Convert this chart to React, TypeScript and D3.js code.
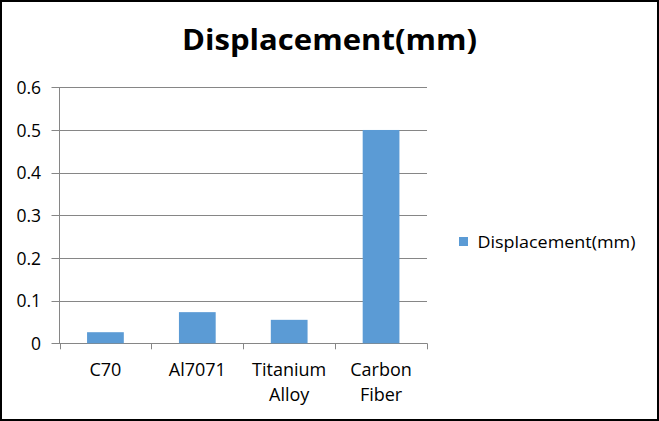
import React from "react";
import * as d3 from "d3";

const categories: string[][] = [["C70"], ["Al7071"], ["Titanium", "Alloy"], ["Carbon", "Fiber"]];
const values: number[] = [0.026, 0.073, 0.055, 0.5];
const yTicks: number[] = [0, 0.1, 0.2, 0.3, 0.4, 0.5, 0.6];
const seriesName = "Displacement(mm)";
const title = "Displacement(mm)";

const W = 659;
const H = 421;
const FONT = "'Open Sans', 'Noto Sans', sans-serif";

export default function App() {
  const left = 59.5;
  const right = 427;
  const top = 87.3;
  const bottom = 343.3;
  const y = d3.scaleLinear().domain([0, 0.6]).range([bottom, top]);
  const x = d3
    .scaleBand<number>()
    .domain(d3.range(categories.length))
    .range([left, right])
    .paddingInner(0.6)
    .paddingOuter(0.3);
  const step = (right - left) / categories.length;
  const grid = "#868686";
  const barColor = "#5B9BD5";

  return (
    <svg
      width={W}
      height={H}
      style={{ position: "absolute", left: 0, top: 0, background: "#fff" }}
      fontFamily={FONT}
    >
      <rect x={0} y={0} width={W} height={H} fill="#fff" />
      <text
        x={329.5}
        y={49.5}
        textAnchor="middle"
        fontSize={28}
        fontWeight="bold"
        textLength={295}
        lengthAdjust="spacingAndGlyphs"
        fill="#000"
      >
        {title}
      </text>

      {yTicks.map((t) => (
        <g key={t}>
          <line x1={left - 8} x2={right} y1={Math.round(y(t)) + 0.5} y2={Math.round(y(t)) + 0.5} stroke={grid} strokeWidth={1} />
          <text x={41} y={y(t)} dy="0.38em" textAnchor="end" fontSize={17.5} fill="#000">
            {String(t)}
          </text>
        </g>
      ))}

      {values.map((v, i) => (
        <rect key={i} x={x(i)} y={y(v)} width={x.bandwidth()} height={bottom - y(v)} fill={barColor} />
      ))}

      <line x1={left} x2={left} y1={top} y2={bottom} stroke={grid} strokeWidth={1} />
      {d3.range(categories.length + 1).map((i) => (
        <line
          key={i}
          x1={Math.round(left + i * step) + 0.5}
          x2={Math.round(left + i * step) + 0.5}
          y1={bottom}
          y2={bottom + 6}
          stroke={grid}
          strokeWidth={1}
        />
      ))}

      {categories.map((lines, i) => (
        <text key={i} x={(x(i) as number) + x.bandwidth() / 2} y={376} textAnchor="middle" fontSize={18} fill="#000">
          {lines.map((l, j) => (
            <tspan key={j} x={(x(i) as number) + x.bandwidth() / 2} dy={j === 0 ? 0 : 25}>
              {l}
            </tspan>
          ))}
        </text>
      ))}

      <rect x={459} y={237} width={9} height={9} fill={barColor} />
      <text x={477.5} y={248} fontSize={17} textLength={158} lengthAdjust="spacingAndGlyphs" fill="#000">
        {seriesName}
      </text>

      <rect x={1} y={1} width={W - 2} height={H - 2} fill="none" stroke="#000" strokeWidth={2} />
    </svg>
  );
}
